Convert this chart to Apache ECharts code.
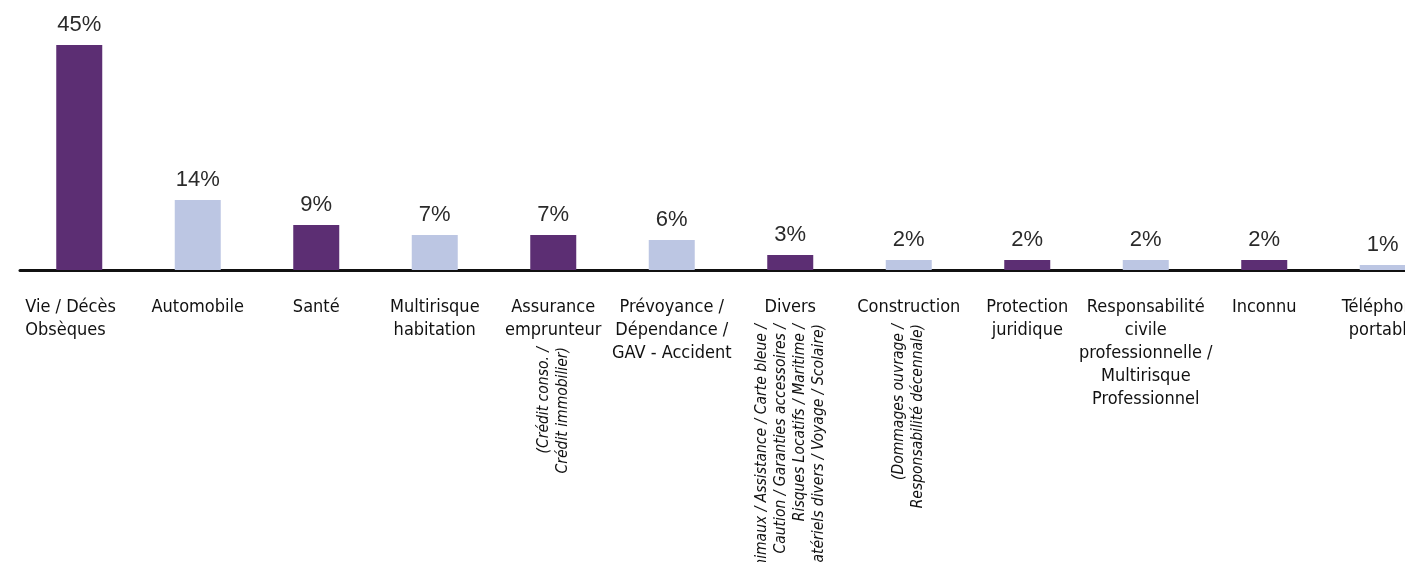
<!DOCTYPE html>
<html>
<head>
<meta charset="utf-8">
<style>
  html, body { margin: 0; padding: 0; background: #ffffff; }
  #chart { width: 1405px; height: 562px; }
</style>
<script src="https://cdn.jsdelivr.net/npm/echarts@6/dist/echarts.min.js"></script>
</head>
<body>
<div id="chart"></div>
<script>
// Répartition par type de contrat (en %)
const categories = [
  'Vie / Décès\nObsèques',
  'Automobile',
  'Santé',
  'Multirisque\nhabitation',
  'Assurance\nemprunteur',
  'Prévoyance /\nDépendance /\nGAV - Accident',
  'Divers',
  'Construction',
  'Protection\njuridique',
  'Responsabilité\ncivile\nprofessionnelle /\nMultirisque\nProfessionnel',
  'Inconnu',
  'Téléphone\nportable'
];
const values = [45, 14, 9, 7, 7, 6, 3, 2, 2, 2, 2, 1];

// Précisions affichées en italique sous certaines catégories
const detailsShort = ['', '', '', '', '', '',
  '(Animaux / Assistance / Carte bleue /\nCaution / Garanties accessoires /\nRisques Locatifs / Maritime /\nMatériels divers / Voyage / Scolaire)',
  '(Dommages ouvrage /\nResponsabilité décennale)',
  '', '', '', ''];
const detailsLong = ['', '', '', '',
  '(Crédit conso. /\nCrédit immobilier)',
  '', '', '', '', '', '', ''];

const PURPLE = '#5c2e73';
const LAVENDER = '#bcc6e3';

const chart = echarts.init(document.getElementById('chart'), null, { renderer: 'canvas' });

const mainFont = "'Liberation Sans Narrow', 'DejaVu Sans Condensed', 'Liberation Sans', sans-serif";

function detailAxis(data, margin) {
  return {
    type: 'category',
    data: data,
    position: 'bottom',
    axisLine: { show: false },
    axisTick: { show: false },
    axisLabel: {
      interval: 0,
      rotate: 90,
      margin: margin,
      fontFamily: mainFont,
      fontStyle: 'italic',
      fontSize: 15.5,
      lineHeight: 19,
      color: '#111'
    }
  };
}

chart.setOption({
  animation: false,
  backgroundColor: '#ffffff',
  grid: {
    left: 20, right: -37, top: 20, bottom: 292,
    containLabel: false,
    outerBoundsMode: 'none'
  },
  xAxis: [
    {
      type: 'category',
      data: categories,
      axisLine: { show: true, lineStyle: { color: '#111', width: 3 } },
      axisTick: { show: false },
      axisLabel: {
        interval: 0,
        margin: 26,
        fontFamily: mainFont,
        fontSize: 18,
        lineHeight: 23,
        color: '#111',
        formatter: function (v, i) {
          if (i === 0) {
            return v.split('\n').map(function (l) { return '{left|' + l + '}'; }).join('\n');
          }
          return v;
        },
        rich: {
          left: {
            width: 108,
            align: 'left',
            fontFamily: mainFont,
            fontSize: 18,
            lineHeight: 23,
            color: '#111'
          }
        }
      }
    },
    detailAxis(detailsShort, 54),
    detailAxis(detailsLong, 77)
  ],
  yAxis: {
    type: 'value',
    min: 0,
    max: 50,
    show: false,
    splitLine: { show: false }
  },
  series: [{
    type: 'bar',
    xAxisIndex: 0,
    barWidth: 46,
    data: values.map(function (v, i) {
      return { value: v, itemStyle: { color: i % 2 === 0 ? PURPLE : LAVENDER } };
    }),
    label: {
      show: true,
      position: 'top',
      distance: 9,
      formatter: '{c}%',
      fontFamily: "'Liberation Sans', Arial, sans-serif",
      fontSize: 22,
      color: '#2a2a2a'
    }
  }]
});
</script>
</body>
</html>
